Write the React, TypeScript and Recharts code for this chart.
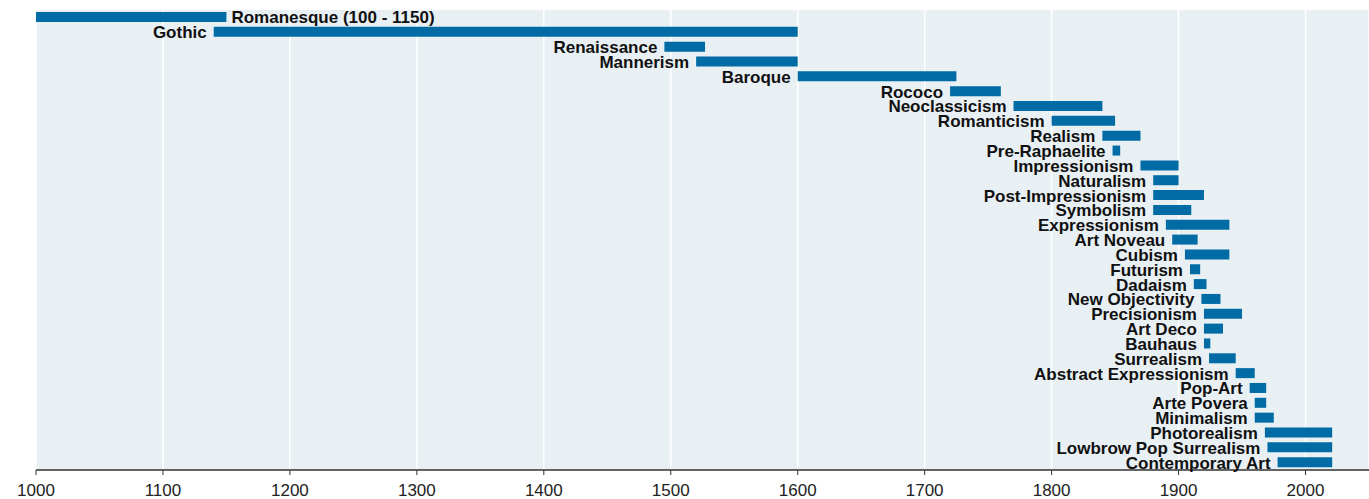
import { Bar, BarChart, CartesianGrid, LabelList, XAxis, YAxis } from "recharts";

const movements = [
  "Romanesque", "Gothic", "Renaissance", "Mannerism", "Baroque", "Rococo",
  "Neoclassicism", "Romanticism", "Realism", "Pre-Raphaelite", "Impressionism",
  "Naturalism", "Post-Impressionism", "Symbolism", "Expressionism", "Art Noveau",
  "Cubism", "Futurism", "Dadaism", "New Objectivity", "Precisionism", "Art Deco",
  "Bauhaus", "Surrealism", "Abstract Expressionism", "Pop-Art", "Arte Povera",
  "Minimalism", "Photorealism", "Lowbrow Pop Surrealism", "Contemporary Art",
];

const startYears = [
  100, 1140, 1495, 1520, 1600, 1720, 1770, 1800, 1840, 1848, 1870, 1880, 1880,
  1880, 1890, 1895, 1905, 1909, 1912, 1918, 1920, 1920, 1920, 1924, 1945, 1956,
  1960, 1960, 1968, 1970, 1978,
];

const endYears = [
  1150, 1600, 1527, 1600, 1725, 1760, 1840, 1850, 1870, 1854, 1900, 1900, 1920,
  1910, 1940, 1915, 1940, 1917, 1922, 1933, 1950, 1935, 1925, 1945, 1960, 1969,
  1969, 1975, 2021, 2021, 2021,
];

const yearTicks = [1000, 1100, 1200, 1300, 1400, 1500, 1600, 1700, 1800, 1900, 2000];
const xDomain = [1000, 2050];

const data = movements.map((name, i) => ({
  name,
  span: [startYears[i], endYears[i]],
}));

const FONT = "'Liberation Sans', Arial, sans-serif";

function MovementLabel(props: any) {
  const { x, y, width, height, index } = props;
  const start = startYears[index];
  const cy = y + height / 2;
  // periods starting before the axis get their label on the right
  if (start < xDomain[0]) {
    return (
      <text x={x + width + 5} y={cy} dy="0.38em" textAnchor="start"
        fontFamily={FONT} fontWeight="bold" fontSize={17} fill="#111">
        {`${movements[index]} (${start} - ${endYears[index]})`}
      </text>
    );
  }
  return (
    <text x={x - 7} y={cy} dy="0.38em" textAnchor="end"
      fontFamily={FONT} fontWeight="bold" fontSize={17} fill="#111">
      {movements[index]}
    </text>
  );
}

export default function App() {
  return (
    <div style={{ position: "absolute", left: 0, top: 0 }}>
      <BarChart
        width={1369}
        height={499}
        data={data}
        layout="vertical"
        margin={{ top: 10, right: 0, bottom: 0, left: 36 }}
        barSize={10}
      >
        <CartesianGrid horizontal={false} stroke="#ffffff" strokeWidth={1.5} fill="#e8f0f4" />
        <XAxis
          type="number"
          domain={xDomain}
          ticks={yearTicks}
          allowDataOverflow
          height={29}
          tickSize={5}
          tickMargin={9}
          axisLine={{ stroke: "#333", strokeWidth: 1.5 }}
          tickLine={{ stroke: "#333" }}
          tick={{ fill: "#222", fontSize: 17, fontFamily: FONT }}
        />
        <YAxis
          type="category"
          dataKey="name"
          width={0}
          tick={false}
          tickLine={false}
          axisLine={{ stroke: "#333", strokeWidth: 2 }}
        />
        <Bar dataKey="span" fill="#006ba4" isAnimationActive={false}>
          <LabelList dataKey="name" content={<MovementLabel />} />
        </Bar>
      </BarChart>
    </div>
  );
}
